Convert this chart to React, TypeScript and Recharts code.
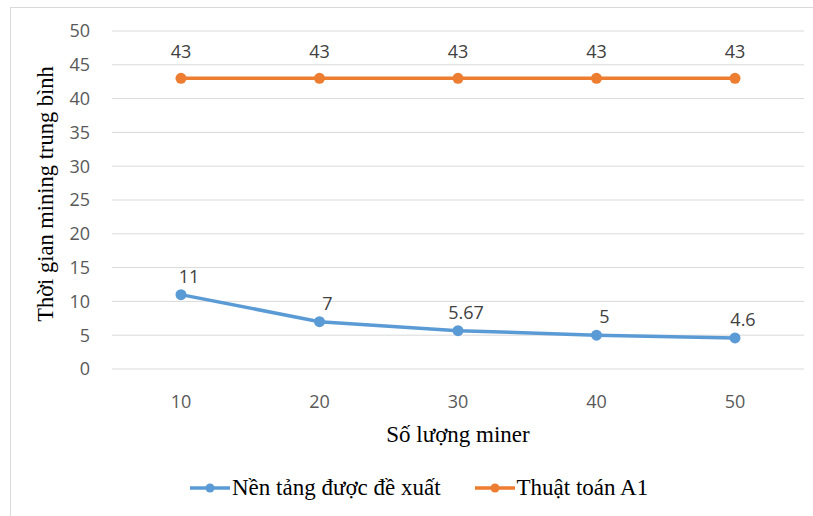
import React from "react";
import {
  LineChart,
  Line,
  XAxis,
  YAxis,
  CartesianGrid,
  Legend,
  LabelList,
} from "recharts";

const minerCounts = ["10", "20", "30", "40", "50"];
const proposedTimes = [11, 7, 5.67, 5, 4.6];
const a1Times = [43, 43, 43, 43, 43];
const yTicks = [0, 5, 10, 15, 20, 25, 30, 35, 40, 45, 50];

const seriesNames = {
  proposed: "Nền tảng được đề xuất",
  a1: "Thuật toán A1",
};

const BLUE = "#5B9BD5";
const ORANGE = "#ED7D31";
const TICK_FONT = '"Open Sans", sans-serif';
const TITLE_FONT = '"Liberation Serif", serif';

const data = minerCounts.map((m, i) => ({
  miner: m,
  proposed: proposedTimes[i],
  a1: a1Times[i],
}));

const makeLabel = (dx: number, dy: number) => (props: any) => {
  const { x, y, value } = props;
  return (
    <text
      x={x + dx}
      y={y + dy}
      textAnchor="middle"
      fill="#404040"
      fontSize={18}
      fontFamily={TICK_FONT}
    >
      {value}
    </text>
  );
};

const LegendItem = ({ color, text }: { color: string; text: string }) => (
  <span style={{ display: "inline-flex", alignItems: "center", marginRight: 34 }}>
    <svg width={40} height={12}>
      <line x1={0} y1={6} x2={40} y2={6} stroke={color} strokeWidth={3.5} />
      <circle cx={20} cy={6} r={4.5} fill={color} />
    </svg>
    <span
      style={{
        marginLeft: 2,
        fontFamily: TITLE_FONT,
        fontSize: 23,
        color: "#000",
      }}
    >
      {text}
    </span>
  </span>
);

const ChartLegend = () => (
  <div style={{ display: "flex", paddingLeft: 190, alignItems: "center" }}>
    <LegendItem color={BLUE} text={seriesNames.proposed} />
    <LegendItem color={ORANGE} text={seriesNames.a1} />
  </div>
);

export default function App() {
  return (
    <div
      style={{
        position: "absolute",
        left: 0,
        top: 0,
        width: 813,
        height: 516,
        overflow: "hidden",
        background: "#fff",
      }}
    >
      <div
        style={{
          position: "absolute",
          left: 10,
          top: 7,
          width: 820,
          height: 530,
          border: "1px solid #d9d9d9",
        }}
      />
      <LineChart
        width={813}
        height={516}
        data={data}
        margin={{ top: 31, right: 9, left: 0, bottom: 67 }}
      >
        <CartesianGrid vertical={false} stroke="#d9d9d9" />
        <XAxis
          dataKey="miner"
          axisLine={false}
          tickLine={false}
          tickMargin={20}
          height={80}
          padding={{ left: 69, right: 69 }}
          tick={{ fill: "#595959", fontSize: 18, fontFamily: TICK_FONT }}
          label={{
            value: "Số lượng miner",
            position: "insideBottom",
            offset: 7,
            fill: "#000",
            fontSize: 23,
            fontFamily: TITLE_FONT,
          }}
        />
        <YAxis
          width={112}
          domain={[0, 50]}
          ticks={yTicks}
          axisLine={false}
          tickLine={false}
          tickMargin={16}
          tick={{ fill: "#595959", fontSize: 18, fontFamily: TICK_FONT }}
          label={{
            value: "Thời gian mining trung bình",
            angle: -90,
            position: "insideLeft",
            offset: 45,
            dy: -6,
            style: { textAnchor: "middle" },
            fill: "#000",
            fontSize: 22.5,
            fontFamily: TITLE_FONT,
          }}
        />
        <Legend
          verticalAlign="middle"
          align="center"
          content={<ChartLegend />}
          wrapperStyle={{ top: 475, left: 0, width: 813 }}
        />
        <Line
          dataKey="proposed"
          name={seriesNames.proposed}
          stroke={BLUE}
          strokeWidth={3.5}
          dot={{ r: 5.5, fill: BLUE, stroke: BLUE, strokeWidth: 0 }}
          isAnimationActive={false}
        >
          <LabelList dataKey="proposed" content={makeLabel(8, -12)} />
        </Line>
        <Line
          dataKey="a1"
          name={seriesNames.a1}
          stroke={ORANGE}
          strokeWidth={3.5}
          dot={{ r: 5.5, fill: ORANGE, stroke: ORANGE, strokeWidth: 0 }}
          isAnimationActive={false}
        >
          <LabelList dataKey="a1" content={makeLabel(0, -20)} />
        </Line>
      </LineChart>
    </div>
  );
}
